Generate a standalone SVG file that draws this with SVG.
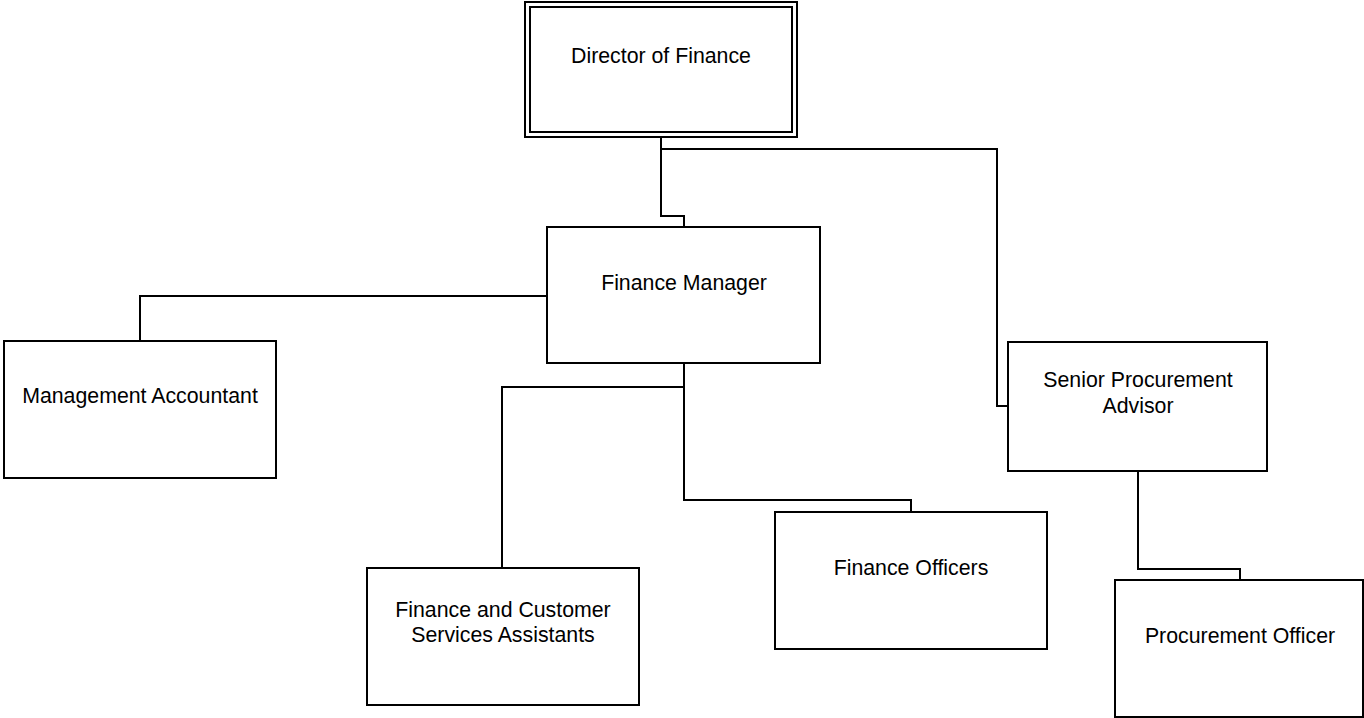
<svg xmlns="http://www.w3.org/2000/svg" width="1364" height="718" viewBox="0 0 1364 718">
<style>
.box{fill:#fff;stroke:#000;stroke-width:2}
.lbl{font-family:"Liberation Sans",Arial,sans-serif;font-size:21.3px;fill:#000;text-anchor:middle}
.conn{fill:none;stroke:#000;stroke-width:2}
</style>
<rect width="1364" height="718" fill="#fff"/>
<g id="connectors">
<polyline class="conn" points="661,137 661,216 684,216 684,227"/>
<polyline class="conn" points="661,149 997,149 997,406 1008,406"/>
<polyline class="conn" points="547,296 140,296 140,341"/>
<polyline class="conn" points="684,363 684,387 502,387 502,568"/>
<polyline class="conn" points="684,387 684,500 911,500 911,512"/>
<polyline class="conn" points="1138,471 1138,569 1240,569 1240,580"/>
</g>
<g id="director">
<rect class="box" x="525" y="2" width="272" height="135"/>
<rect class="box" x="530" y="7" width="262" height="125"/>
<text class="lbl" x="661" y="63">Director of Finance</text>
</g>
<g id="finance-manager">
<rect class="box" x="547" y="227" width="273" height="136"/>
<text class="lbl" x="684" y="290">Finance Manager</text>
</g>
<g id="management-accountant">
<rect class="box" x="4" y="341" width="272" height="137"/>
<text class="lbl" x="140" y="403">Management Accountant</text>
</g>
<g id="senior-procurement-advisor">
<rect class="box" x="1008" y="342" width="259" height="129"/>
<text class="lbl" x="1138" y="387">Senior Procurement</text>
<text class="lbl" x="1138" y="413">Advisor</text>
</g>
<g id="fcsa">
<rect class="box" x="367" y="568" width="272" height="137"/>
<text class="lbl" x="503" y="617">Finance and Customer</text>
<text class="lbl" x="503" y="642">Services Assistants</text>
</g>
<g id="finance-officers">
<rect class="box" x="775" y="512" width="272" height="137"/>
<text class="lbl" x="911" y="575">Finance Officers</text>
</g>
<g id="procurement-officer">
<rect class="box" x="1115" y="580" width="248" height="137"/>
<text class="lbl" x="1240" y="643">Procurement Officer</text>
</g>
</svg>
